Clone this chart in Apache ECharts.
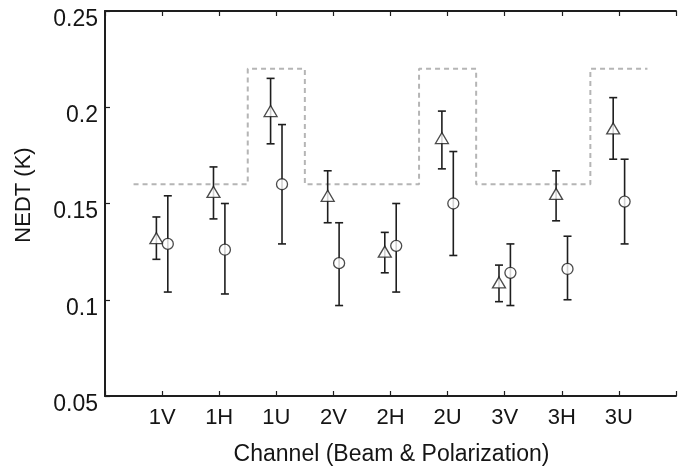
<!DOCTYPE html>
<html>
<head>
<meta charset="utf-8">
<script src="https://cdn.jsdelivr.net/npm/echarts@6/dist/echarts.min.js"></script>
<style>html,body{margin:0;padding:0;background:#fff;}#c{width:679px;height:473px;}</style>
</head>
<body>
<div id="c"></div>
<script>
var channels = ['1V','1H','1U','2V','2H','2U','3V','3H','3U'];
var triMean = [0.132, 0.156, 0.198, 0.154, 0.125, 0.184, 0.109, 0.155, 0.189];
var triLow  = [0.121, 0.142, 0.181, 0.140, 0.114, 0.168, 0.099, 0.141, 0.173];
var triHigh = [0.143, 0.169, 0.215, 0.167, 0.135, 0.198, 0.118, 0.167, 0.205];
var cirMean = [0.129, 0.126, 0.160, 0.119, 0.128, 0.150, 0.114, 0.116, 0.151];
var cirLow  = [0.104, 0.103, 0.129, 0.097, 0.104, 0.123, 0.097, 0.100, 0.129];
var cirHigh = [0.154, 0.150, 0.191, 0.140, 0.150, 0.177, 0.129, 0.133, 0.173];
var thresholds = [0.16, 0.16, 0.22, 0.16, 0.16, 0.22, 0.16, 0.16, 0.22];
var yTicks = [0.05, 0.1, 0.15, 0.2, 0.25];
var xTitle = 'Channel (Beam & Polarization)';
var yTitle = 'NEDT (K)';

var FONT = 'Liberation Sans';
var INK = '#1e1e1e';
var TXT = '#151515';
var triOff = -0.1, cirOff = 0.1;

var triPts = [], cirPts = [], triBars = [], cirBars = [], stepPts = [];
channels.forEach(function (c, i) {
  var x = i + 1;
  triPts.push([x + triOff, triMean[i]]);
  cirPts.push([x + cirOff, cirMean[i]]);
  triBars.push([x + triOff, triLow[i], triHigh[i]]);
  cirBars.push([x + cirOff, cirLow[i], cirHigh[i]]);
  stepPts.push([x - 0.5, thresholds[i]]);
  stepPts.push([x + 0.5, thresholds[i]]);
});

function errRender(params, api) {
  var x = api.value(0);
  var lo = api.coord([x, api.value(1)]);
  var hi = api.coord([x, api.value(2)]);
  var hw = 4;
  var st = { stroke: INK, lineWidth: 1.6 };
  return {
    type: 'group',
    children: [
      { type: 'line', shape: { x1: lo[0], y1: lo[1], x2: hi[0], y2: hi[1] }, style: st },
      { type: 'line', shape: { x1: lo[0] - hw, y1: lo[1], x2: lo[0] + hw, y2: lo[1] }, style: st },
      { type: 'line', shape: { x1: hi[0] - hw, y1: hi[1], x2: hi[0] + hw, y2: hi[1] }, style: st }
    ]
  };
}

var chart = echarts.init(document.getElementById('c'), null, { renderer: 'canvas' });
chart.setOption({
  animation: false,
  backgroundColor: '#fff',
  grid: { left: 105, top: 11, width: 583, height: 385, containLabel: false },
  graphic: [{
    type: 'text', x: 391.5, y: 455,
    style: { text: xTitle, font: '23px "' + FONT + '"', fill: TXT, align: 'center', verticalAlign: 'middle' }
  }, {
    type: 'text', x: 23.5, y: 195, rotation: Math.PI / 2,
    style: { text: yTitle, font: '22px "' + FONT + '"', fill: TXT, align: 'center', verticalAlign: 'middle' }
  }],
  xAxis: [{
    type: 'value', min: 0, max: 10, interval: 1, position: 'bottom',
    axisLine: { show: true, onZero: false, lineStyle: { color: INK, width: 2 } },
    axisTick: { show: true, inside: true, length: 5, lineStyle: { color: INK, width: 1.2 } },
    splitLine: { show: false },
    axisLabel: {
      margin: 11, fontFamily: FONT, fontSize: 22, color: TXT,
      formatter: function (v) { return (v >= 1 && v <= channels.length && Math.round(v) === v) ? channels[v - 1] : ''; }
    }
  }, {
    type: 'value', min: 0, max: 10, interval: 1, position: 'top',
    axisLine: { show: true, onZero: false, lineStyle: { color: INK, width: 2 } },
    axisTick: { show: true, inside: true, length: 5, lineStyle: { color: INK, width: 1.2 } },
    splitLine: { show: false },
    axisLabel: { show: false }
  }],
  yAxis: [{
    type: 'value', min: yTicks[0], max: yTicks[yTicks.length - 1], interval: 0.05,
    axisLine: { show: true, onZero: false, lineStyle: { color: INK, width: 2 } },
    axisTick: { show: true, inside: true, length: 5, lineStyle: { color: INK, width: 1.2 } },
    splitLine: { show: false },
    axisLabel: { margin: 7, fontFamily: FONT, fontSize: 23, color: TXT, verticalAlign: 'top', lineHeight: 17 }
  }],
  series: [{
    type: 'line', data: stepPts, symbol: 'none', z: 1,
    lineStyle: { color: '#b5b5b5', width: 2, type: [5, 4] }
  }, {
    type: 'custom', data: triBars, renderItem: errRender, z: 2,
    encode: { x: 0, y: [1, 2] }
  }, {
    type: 'custom', data: cirBars, renderItem: errRender, z: 2,
    encode: { x: 0, y: [1, 2] }
  }, {
    type: 'scatter', data: triPts, symbol: 'triangle', symbolSize: [13, 11], z: 3,
    itemStyle: { color: '#fff', borderColor: INK, borderWidth: 1.3 }
  }, {
    type: 'scatter', data: cirPts, symbol: 'circle', symbolSize: 11, z: 3,
    itemStyle: { color: '#fff', borderColor: INK, borderWidth: 1.3 }
  }]
});
</script>
</body>
</html>
